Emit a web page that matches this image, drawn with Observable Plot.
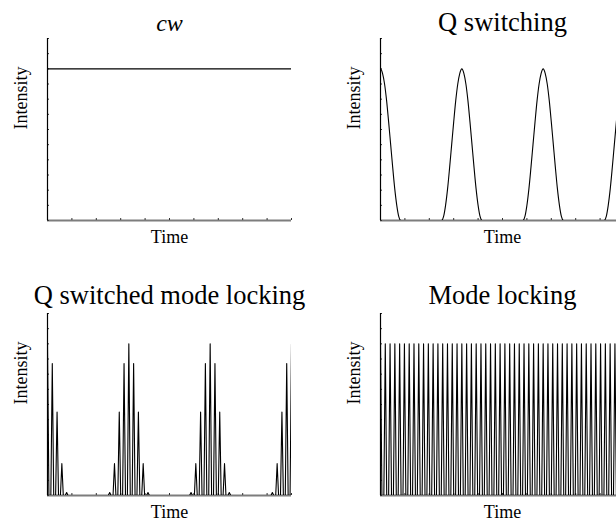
<!DOCTYPE html>
<html>
<head>
<meta charset="utf-8">
<script src="https://cdn.jsdelivr.net/npm/d3@7"></script>
<script src="https://cdn.jsdelivr.net/npm/@observablehq/plot@0.6"></script>
<style>
  body { margin: 0; background: #fff; }
  #fig { position: relative; width: 616px; height: 520px; overflow: hidden; background: #fff; }
  #fig > div { position: absolute; }
  #fig svg { max-width: none !important; display: block; }
</style>
</head>
<body>
<div id="fig"></div>
<script>
// Panel titles
const titles = ["cw", "Q switching", "Q switched mode locking", "Mode locking"];

// Axis tick positions (intensity and time, time measured in Q-switch periods)
const yTicks = [0, 0.1, 0.2, 0.3, 0.4, 0.5, 0.6, 0.7, 0.8, 0.9, 1.0, 1.1, 1.2];
const xTicks = [0, 0.3, 0.6, 0.9, 1.2, 1.5, 1.8, 2.1, 2.4, 2.7, 3.0];
const timeSpan = [0, 3];
const intensitySpan = [0, 1.2];

// Continuous-wave level
const cwLevel = 1.0;

// Q-switched pulses: pulse centres and one half-profile (offset in periods, intensity)
const qsPeakTimes = [0, 1, 2, 3];
const qsOffsets = [0, 0.025, 0.05, 0.075, 0.1, 0.125, 0.15, 0.175, 0.2, 0.225, 0.25];
const qsProfile = [1.0, 0.97, 0.9, 0.79, 0.65, 0.5, 0.35, 0.21, 0.1, 0.025, 0];

// Mode-locked spike trains: 17 spikes per Q-switch period
const spikesPerPeriod = 17;
const spikeHalfWidth = 0.3; // fraction of the spike spacing
const qsmlHeights = [
  1.0, 0.87, 0.55, 0.21, 0.02, 0, 0, 0, 0, 0, 0, 0, 0, 0.02, 0.21, 0.55, 0.87,
  1.0, 0.87, 0.55, 0.21, 0.02, 0, 0, 0, 0, 0, 0, 0, 0, 0.02, 0.21, 0.55, 0.87,
  1.0, 0.87, 0.55, 0.21, 0.02, 0, 0, 0, 0, 0, 0, 0, 0, 0.02, 0.21, 0.55, 0.87,
  1.0
];
const mlHeights = [
  1, 1, 1, 1, 1, 1, 1, 1, 1, 1, 1, 1, 1, 1, 1, 1, 1,
  1, 1, 1, 1, 1, 1, 1, 1, 1, 1, 1, 1, 1, 1, 1, 1, 1,
  1, 1, 1, 1, 1, 1, 1, 1, 1, 1, 1, 1, 1, 1, 1, 1, 1,
  1
];

const serif = "'Liberation Serif', 'DejaVu Serif', serif";

// ---- series builders ----
function cwSeries() {
  return timeSpan.map(t => ({t, v: cwLevel}));
}

function qsSeries() {
  const pts = [];
  for (const p of qsPeakTimes) {
    for (let i = qsOffsets.length - 1; i > 0; i--) pts.push({t: p - qsOffsets[i], v: qsProfile[i]});
    for (let i = 0; i < qsOffsets.length; i++) pts.push({t: p + qsOffsets[i], v: qsProfile[i]});
  }
  return pts;
}

function spikeSeries(heights) {
  const dt = 1 / spikesPerPeriod;
  const w = spikeHalfWidth * dt;
  const pts = [];
  heights.forEach((h, k) => {
    const t = k * dt;
    pts.push({t: t - w, v: 0});
    if (h > 0) pts.push({t, v: h});
    pts.push({t: t + w, v: 0});
  });
  return pts;
}

// ---- one panel ----
function panel({title, italic, titleSize = 26.5, series, curve, left, top, marginLeft, marginTop, marginBottom, titleDy}) {
  const frameWidth = 244;
  const width = marginLeft + frameWidth + 20;
  const chart = Plot.plot({
    width,
    height: 260,
    marginLeft, marginRight: 20, marginTop, marginBottom,
    x: {domain: timeSpan, axis: null},
    y: {domain: intensitySpan, axis: null},
    style: `font-family: ${serif}; background: white; color: black; max-width: none;`,
    marks: [
      Plot.ruleY([0], {stroke: "#7d7d7d", strokeWidth: 2}),
      Plot.ruleX(xTicks, {y1: 0, y2: 0, insetTop: -2, stroke: "#333"}),
      Plot.ruleY(yTicks, {x1: 0, x2: 0, insetRight: -2, stroke: "#333"}),
      Plot.ruleX([0], {y1: intensitySpan[0], y2: intensitySpan[1], stroke: "black", strokeWidth: 1.2}),
      Plot.line(series, {x: "t", y: "v", stroke: "black", strokeWidth: 1.1, curve, clip: true}),
      Plot.text([title], {frameAnchor: "top", lineAnchor: "bottom", dy: titleDy, fontSize: titleSize,
        fontFamily: serif, fontStyle: italic ? "italic" : "normal"}),
      Plot.text(["Intensity"], {frameAnchor: "left", rotate: -90, dx: -26, fontSize: 18, fontFamily: serif}),
      Plot.text(["Time"], {frameAnchor: "bottom", lineAnchor: "bottom", dy: 22, fontSize: 18, fontFamily: serif})
    ]
  });
  const holder = document.createElement("div");
  holder.style.left = left + "px";
  holder.style.top = top + "px";
  holder.style.width = width + "px";
  holder.appendChild(chart);
  document.getElementById("fig").appendChild(holder);
}

const topRow = {top: 0, marginTop: 38, marginBottom: 40, titleDy: -8};
const bottomRow = {top: 260, marginTop: 53, marginBottom: 25, titleDy: -10};

panel({...topRow, title: titles[0], italic: true, titleSize: 24, series: cwSeries(), curve: "linear", left: 0, marginLeft: 47});
panel({...topRow, title: titles[1], series: qsSeries(), curve: "monotone-x", left: 308, marginLeft: 72});
panel({...bottomRow, title: titles[2], series: spikeSeries(qsmlHeights), curve: "linear", left: 0, marginLeft: 47});
panel({...bottomRow, title: titles[3], series: spikeSeries(mlHeights), curve: "linear", left: 308, marginLeft: 72});
</script>
</body>
</html>
